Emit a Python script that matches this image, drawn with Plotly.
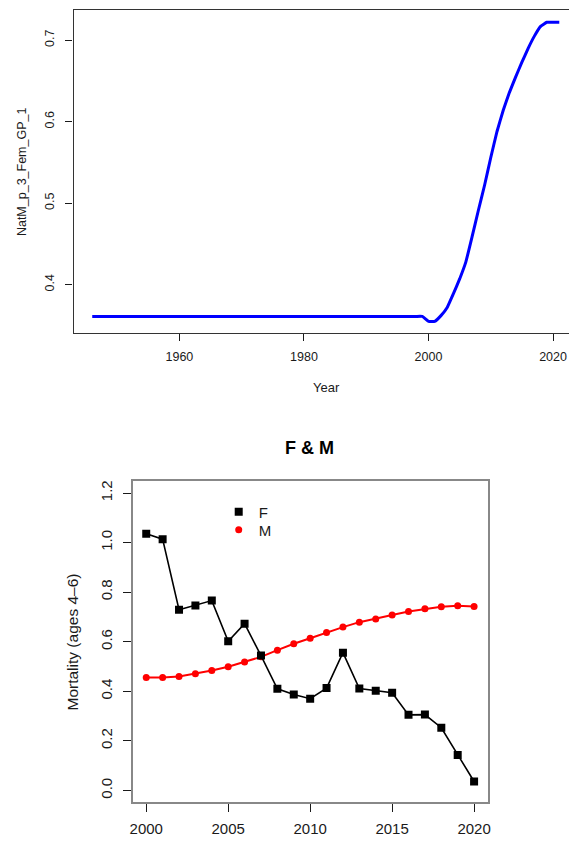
import plotly.graph_objects as go

# ---- Natural mortality parameter (female, growth pattern 1) by year ----
natm_years = list(range(1946, 2022))
natm_values = [
    0.361, 0.361, 0.361, 0.361, 0.361, 0.361, 0.361, 0.361, 0.361, 0.361,  # 1946-1955
    0.361, 0.361, 0.361, 0.361, 0.361, 0.361, 0.361, 0.361, 0.361, 0.361,  # 1956-1965
    0.361, 0.361, 0.361, 0.361, 0.361, 0.361, 0.361, 0.361, 0.361, 0.361,  # 1966-1975
    0.361, 0.361, 0.361, 0.361, 0.361, 0.361, 0.361, 0.361, 0.361, 0.361,  # 1976-1985
    0.361, 0.361, 0.361, 0.361, 0.361, 0.361, 0.361, 0.361, 0.361, 0.361,  # 1986-1995
    0.361, 0.361, 0.361, 0.361,                                            # 1996-1999
    0.355, 0.355, 0.362, 0.372, 0.389, 0.407, 0.428, 0.459, 0.491, 0.522,  # 2000-2009
    0.556, 0.588, 0.614, 0.636, 0.655, 0.673, 0.690, 0.705, 0.717, 0.722,  # 2010-2019
    0.722, 0.722,                                                          # 2020-2021
]
natm_xticks = [1960, 1980, 2000, 2020]
natm_yticks = [0.4, 0.5, 0.6, 0.7]

# ---- Fishing (F) and natural (M) mortality, ages 4-6 ----
fm_years = list(range(2000, 2021))
f_values = [1.036, 1.014, 0.729, 0.746, 0.766, 0.602, 0.673, 0.544, 0.410, 0.387,
            0.370, 0.413, 0.556, 0.411, 0.402, 0.394, 0.305, 0.306, 0.253, 0.143,
            0.036]
m_values = [0.456, 0.456, 0.460, 0.471, 0.484, 0.499, 0.518, 0.539, 0.566, 0.592,
            0.614, 0.637, 0.659, 0.679, 0.692, 0.708, 0.722, 0.733, 0.741, 0.745,
            0.742]
fm_xticks = [2000, 2005, 2010, 2015, 2020]
fm_yticks = [0.0, 0.2, 0.4, 0.6, 0.8, 1.0, 1.2]

W, H = 572, 841
FONT = "Arial, Liberation Sans, sans-serif"
INK = "#1a1a1a"


def px_x(p):
    return p / W


def px_y(p):
    return 1 - p / H


fig = go.Figure()

# Top panel: NatM time series
fig.add_trace(go.Scatter(
    x=natm_years, y=natm_values, mode="lines",
    line=dict(color="#0000ff", width=3, shape="spline", smoothing=0.3),
    xaxis="x", yaxis="y", showlegend=False,
))

# Bottom panel: F and M
fig.add_trace(go.Scatter(
    x=fm_years, y=m_values, mode="lines+markers",
    line=dict(color="#ff0000", width=2),
    marker=dict(symbol="circle", size=7, color="#ff0000"),
    xaxis="x2", yaxis="y2", showlegend=False, legendgroup="M",
))
fig.add_trace(go.Scatter(
    x=fm_years, y=f_values, mode="lines+markers",
    line=dict(color="#000000", width=1.6),
    marker=dict(symbol="square", size=8, color="#000000"),
    xaxis="x2", yaxis="y2", showlegend=False, legendgroup="F",
))

# Legend entries show the point symbols only, one legend per row
fig.add_trace(go.Scatter(
    x=[None], y=[None], mode="markers", name="F", legendgroup="F",
    marker=dict(symbol="square", size=8, color="#000000"),
    xaxis="x2", yaxis="y2", legend="legend",
))
fig.add_trace(go.Scatter(
    x=[None], y=[None], mode="markers", name="M", legendgroup="M",
    marker=dict(symbol="circle", size=7, color="#ff0000"),
    xaxis="x2", yaxis="y2", legend="legend2",
))

top_axis_common = dict(
    showgrid=False, zeroline=False, ticks="outside", ticklen=7,
    tickcolor=INK, tickwidth=1, showline=True, linecolor="#333333",
    linewidth=1.2, tickfont=dict(family=FONT, size=12.5, color=INK),
)
bot_axis_common = dict(
    showgrid=False, zeroline=False, ticks="outside", ticklen=8,
    tickcolor=INK, tickwidth=1, showline=True, linecolor="#888888",
    linewidth=2, tickfont=dict(family=FONT, size=15, color=INK),
)

legend_common = dict(
    xanchor="left", yanchor="middle",
    bgcolor="rgba(0,0,0,0)", borderwidth=0,
    font=dict(family=FONT, size=15, color=INK),
)

fig.update_layout(
    width=W, height=H,
    margin=dict(l=0, r=0, t=0, b=0),
    paper_bgcolor="white", plot_bgcolor="white",
    font=dict(family=FONT, color=INK),
    xaxis=dict(
        **top_axis_common, domain=[px_x(71.3), 1.0],
        range=[1943.0, 2022.56], tickvals=natm_xticks, mirror=True,
        ticklabelstandoff=5, anchor="y",
    ),
    yaxis=dict(
        **top_axis_common, domain=[px_y(332.7), px_y(9.3)],
        range=[0.3403, 0.7367], tickvals=natm_yticks, tickangle=-90,
        ticklabelstandoff=6, anchor="x",
    ),
    xaxis2=dict(
        **bot_axis_common, domain=[px_x(131), px_x(490)],
        range=[1999.17, 2020.84], tickvals=fm_xticks, mirror=True,
        ticklabelstandoff=4, anchor="y2",
    ),
    yaxis2=dict(
        **bot_axis_common, domain=[px_y(802.3), px_y(480.7)],
        range=[-0.048, 1.248], tickvals=fm_yticks, tickformat=".1f",
        tickangle=-90, mirror=True, ticklabelstandoff=5, anchor="x2",
    ),
    legend=dict(**legend_common, x=px_x(218), y=px_y(511.7)),
    legend2=dict(**legend_common, x=px_x(218), y=px_y(529.7)),
    annotations=[
        dict(text="NatM_p_3_Fem_GP_1", x=px_x(19.5), y=px_y(171), xref="paper",
             yref="paper", showarrow=False, textangle=-90,
             font=dict(family=FONT, size=12.5, color=INK),
             xanchor="center", yanchor="middle"),
        dict(text="Year", x=px_x(326.7), y=px_y(386.7), xref="paper",
             yref="paper", showarrow=False,
             font=dict(family=FONT, size=13, color=INK),
             xanchor="center", yanchor="middle"),
        dict(text="<b>F & M</b>", x=px_x(309.5), y=px_y(447.3), xref="paper",
             yref="paper", showarrow=False,
             font=dict(family=FONT, size=18, color="#000000"),
             xanchor="center", yanchor="middle"),
        dict(text="Mortality (ages 4\u20136)", x=px_x(70.5), y=px_y(641.5),
             xref="paper", yref="paper", showarrow=False, textangle=-90,
             font=dict(family=FONT, size=15.5, color=INK),
             xanchor="center", yanchor="middle"),
    ],
)

fig.write_html("out.html")
